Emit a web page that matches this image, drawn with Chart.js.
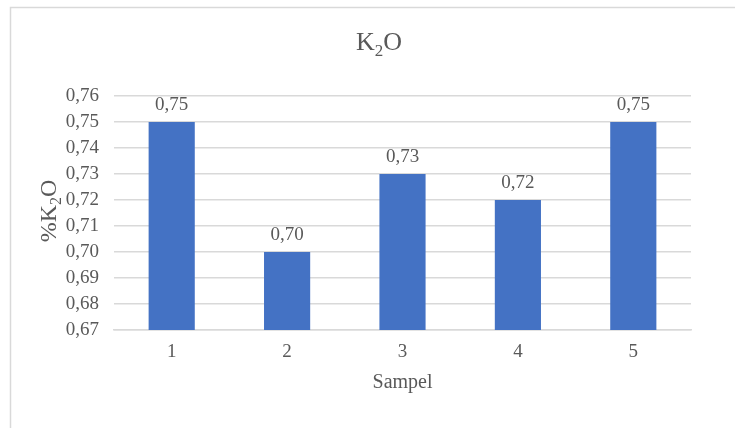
<!DOCTYPE html>
<html>
<head>
<meta charset="utf-8">
<script src="https://cdn.jsdelivr.net/npm/chart.js@4"></script>
<style>
html,body{margin:0;padding:0;background:#fff;}
#wrap{width:735px;height:428px;position:relative;}
</style>
</head>
<body>
<div id="wrap"><canvas id="c" width="735" height="428"></canvas></div>
<script>
const categories = ["1", "2", "3", "4", "5"];
const values = [0.75, 0.70, 0.73, 0.72, 0.75];
const yTicks = [0.67, 0.68, 0.69, 0.70, 0.71, 0.72, 0.73, 0.74, 0.75, 0.76];
const titleParts = ["K", "2", "O"];
const yTitleParts = ["%K", "2", "O"];
const xTitle = "Sampel";

const FONT = "'Liberation Serif', 'Times New Roman', serif";
const TXT = "#595959";

function fmt(v){ return v.toFixed(2).replace('.', ','); }

function drawSub(ctx, parts, size, subSize, x, y){
  ctx.font = size + "px " + FONT;
  const w0 = ctx.measureText(parts[0]).width;
  const w2 = ctx.measureText(parts[2]).width;
  ctx.font = subSize + "px " + FONT;
  const w1 = ctx.measureText(parts[1]).width;
  let cx = x - (w0 + w1 + w2) / 2;
  ctx.textAlign = "left";
  ctx.textBaseline = "alphabetic";
  ctx.font = size + "px " + FONT;
  ctx.fillText(parts[0], cx, y); cx += w0;
  ctx.font = subSize + "px " + FONT;
  ctx.fillText(parts[1], cx, y + size * 0.22); cx += w1;
  ctx.font = size + "px " + FONT;
  ctx.fillText(parts[2], cx, y);
}

const decor = {
  id: 'decor',
  beforeDraw(chart){
    const ctx = chart.ctx;
    ctx.save();
    ctx.fillStyle = "#fff";
    ctx.fillRect(0, 0, chart.width, chart.height);
    ctx.strokeStyle = "#d9d9d9";
    ctx.lineWidth = 1.5;
    ctx.beginPath();
    ctx.moveTo(10.5, chart.height + 5);
    ctx.lineTo(10.5, 7.5);
    ctx.lineTo(chart.width + 5, 7.5);
    ctx.stroke();
    ctx.restore();
  },
  afterDraw(chart){
    const ctx = chart.ctx;
    const area = chart.chartArea;
    ctx.save();
    ctx.fillStyle = TXT;
    drawSub(ctx, titleParts, 26, 17, 379, 50);
    ctx.font = "20px " + FONT;
    ctx.textAlign = "center";
    ctx.textBaseline = "alphabetic";
    ctx.fillText(xTitle, (area.left + area.right) / 2, 388);
    ctx.translate(56, 211);
    ctx.rotate(-Math.PI / 2);
    drawSub(ctx, yTitleParts, 24, 16, 0, 0);
    ctx.restore();
  },
  afterDatasetsDraw(chart){
    const ctx = chart.ctx;
    const meta = chart.getDatasetMeta(0);
    ctx.save();
    ctx.fillStyle = TXT;
    ctx.font = "19px " + FONT;
    ctx.textAlign = "center";
    ctx.textBaseline = "alphabetic";
    meta.data.forEach((bar, i) => {
      ctx.fillText(fmt(values[i]), bar.x, bar.y - 12);
    });
    ctx.restore();
  }
};

new Chart(document.getElementById('c'), {
  type: 'bar',
  data: {
    labels: categories,
    datasets: [{
      data: values,
      backgroundColor: "#4472C4",
      borderWidth: 0,
      categoryPercentage: 1.0,
      barPercentage: 0.4
    }]
  },
  options: {
    responsive: false,
    animation: false,
    devicePixelRatio: 1,
    layout: { padding: { left: 10, right: 44, top: 96, bottom: 0 } },
    plugins: { legend: { display: false }, title: { display: false }, tooltip: { enabled: false } },
    scales: {
      x: {
        afterFit(s){ s.height = 98; },
        grid: { display: false, drawTicks: false },
        border: { display: true, color: "#d9d9d9", width: 1.5 },
        ticks: { color: TXT, font: { family: FONT, size: 19 }, padding: 11 }
      },
      y: {
        min: 0.67, max: 0.76,
        afterFit(s){ s.width = 104; },
        afterBuildTicks(s){ s.ticks = yTicks.map(v => ({ value: v })); },
        grid: { color: "#d9d9d9", lineWidth: 1.5, drawTicks: false },
        border: { display: false },
        ticks: { color: TXT, font: { family: FONT, size: 19 }, padding: 15, callback: (v) => fmt(v) }
      }
    }
  },
  plugins: [decor]
});
</script>
</body>
</html>
